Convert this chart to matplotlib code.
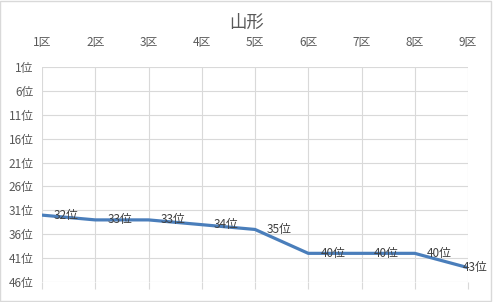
import numpy as np
import matplotlib.pyplot as plt
from matplotlib.patches import Rectangle

plt.rcParams['font.family'] = ['Noto Sans CJK JP', 'DejaVu Sans']

districts = ['1区', '2区', '3区', '4区', '5区', '6区', '7区', '8区', '9区']
ranks = [32, 33, 33, 34, 35, 40, 40, 40, 43]
yticks = [1, 6, 11, 16, 21, 26, 31, 36, 41, 46]

grey = '#595959'
fig = plt.figure(figsize=(4.93, 3.02), dpi=100)
fig.patches.append(Rectangle((0.001, 0.002), 0.994, 0.995, transform=fig.transFigure,
                             fill=False, edgecolor='#d9d9d9', linewidth=1))
ax = fig.add_axes([0.0852, 0.0662, 0.8641, 0.7119])

x = np.arange(len(districts))
ax.plot(x, ranks, color='#4a7ebb', linewidth=2.3, solid_capstyle='round', zorder=3)
for i, (xi, r) in enumerate(zip(x, ranks)):
    dx = 12 if i < len(x) - 1 else -5
    ax.annotate(f'{r}位', (xi, r), xytext=(dx, 0), textcoords='offset pixels',
                ha='left', va='center', fontsize=8.5, color='#404040', zorder=4)

ax.set_xlim(0, len(x) - 1)
ax.set_ylim(46, 1)
ax.set_yticks(yticks)
ax.set_yticklabels([f'{v}位' for v in yticks])
ax.set_xticks(x)
ax.set_xticklabels(districts)
ax.xaxis.set_ticks_position('both')
ax.tick_params(axis='x', which='both', top=False, labeltop=True, bottom=True,
               labelbottom=False, length=5, color='#d9d9d9', labelcolor=grey,
               labelsize=8.5, pad=8)
ax.tick_params(axis='y', length=0, labelcolor=grey, labelsize=8.5, pad=6)
ax.grid(True, color='#d9d9d9', linewidth=0.8)
ax.set_axisbelow(True)
for s in ax.spines.values():
    s.set_visible(False)

fig.text(0.5, 0.924, '山形', ha='center', va='center', fontsize=12.5, color=grey)

fig.savefig('out.png', dpi=100)
